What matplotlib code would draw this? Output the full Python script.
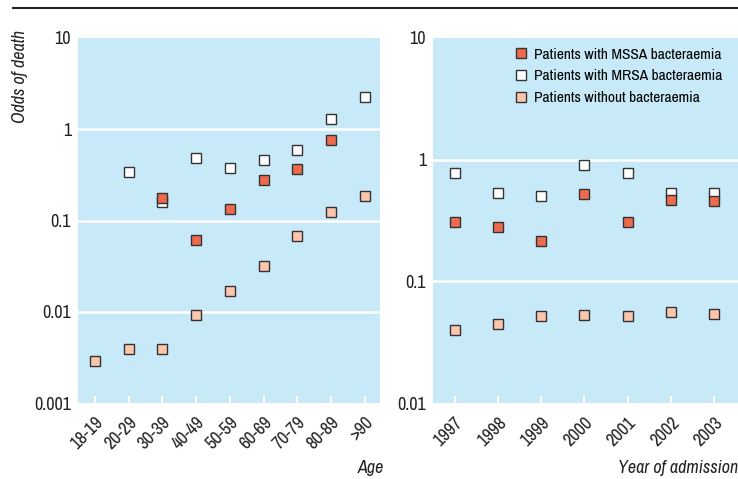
import matplotlib
matplotlib.use("Agg")
import matplotlib.pyplot as plt
import numpy as np

plt.rcParams['font.family'] = ['Archivo Narrow', 'Liberation Sans', 'DejaVu Sans']

# left panel: odds of death by age group
age_groups = ["18-19", "20-29", "30-39", "40-49", "50-59", "60-69", "70-79", "80-89", ">90"]
age_mssa = [np.nan, np.nan, 0.178, 0.061, 0.134, 0.275, 0.37, 0.76, np.nan]
age_mrsa = [np.nan, 0.34, 0.16, 0.49, 0.376, 0.456, 0.587, 1.29, 2.27]
age_none = [0.0029, 0.0039, 0.0039, 0.0092, 0.0169, 0.032, 0.067, 0.124, 0.187]

# right panel: odds of death by year of admission
years = ["1997", "1998", "1999", "2000", "2001", "2002", "2003"]
year_mssa = [0.31, 0.279, 0.213, 0.525, 0.31, 0.47, 0.457]
year_mrsa = [0.77, 0.53, 0.505, 0.90, 0.77, 0.53, 0.53]
year_none = [0.0398, 0.0446, 0.0515, 0.053, 0.052, 0.056, 0.054]

labels = ["Patients with MSSA bacteraemia", "Patients with MRSA bacteraemia",
          "Patients without bacteraemia"]
colors = ["#ee6a4c", "#ffffff", "#fcc5ad"]
bg = "#c7e9f8"


def draw_panel(ax, cats, series, ylim, ticks, ticklabels):
    x = np.arange(len(cats))
    ax.set_facecolor(bg)
    ax.set_yscale("log")
    ax.set_ylim(*ylim)
    order = [2, 1, 0]  # draw MSSA on top
    for i in order:
        ax.plot(x, series[i], linestyle="none", marker="s", markersize=7.5,
                markerfacecolor=colors[i], markeredgecolor="#333333",
                markeredgewidth=1.0, zorder=3 + (2 - i), label=labels[i])
    for t in ticks[1:-1]:
        ax.axhline(t, color="white", lw=1.8, zorder=1)
    ax.set_yticks(ticks)
    ax.set_yticklabels(ticklabels)
    ax.minorticks_off()
    ax.set_xticks(x)
    ax.set_xticklabels(cats, rotation=45, ha="right", rotation_mode="anchor")
    ax.tick_params(axis="x", direction="in", colors="white", length=5, width=1.5,
                   labelcolor="#222222", labelsize=13, pad=8)
    ax.tick_params(axis="y", length=0, labelsize=13, labelcolor="#222222", pad=5)
    for s in ax.spines.values():
        s.set_visible(False)


fig = plt.figure(figsize=(7.38, 4.79), dpi=100)

ax1 = fig.add_axes([78 / 738, 76 / 479, 302 / 738, 365 / 479])
draw_panel(ax1, age_groups, [age_mssa, age_mrsa, age_none], (0.001, 10),
           [0.001, 0.01, 0.1, 1, 10], ["0.001", "0.01", "0.1", "1", "10"])
ax1.set_xlim(-0.5, 8.45)

ax2 = fig.add_axes([433 / 738, 76 / 479, 305 / 738, 365 / 479])
draw_panel(ax2, years, [year_mssa, year_mrsa, year_none], (0.01, 10),
           [0.01, 0.1, 1, 10], ["0.01", "0.1", "1", "10"])
ax2.set_xlim(-0.5, 6.55)

handles, labs = ax2.get_legend_handles_labels()
idx = [labs.index(l) for l in labels]
ax2.legend([handles[i] for i in idx], labels, loc="upper left",
           bbox_to_anchor=(0.218, 1.012), frameon=False, fontsize=11.2,
           handletextpad=0.3, labelspacing=0.5, handlelength=1.0,
           borderaxespad=0.5)

fig.text(20 / 738, 1 - 30 / 479, "Odds of death", rotation=90, style="italic",
         fontsize=13, ha="center", va="top", color="#222222")
fig.text(384 / 738, 1 - 468 / 479, "Age", style="italic", fontsize=13,
         ha="right", va="center", color="#222222")
fig.text(738 / 738, 1 - 468 / 479, "Year of admission", style="italic",
         fontsize=13, ha="right", va="center", color="#222222")

fig.add_artist(plt.Line2D([13 / 738, 1.0], [1 - 8 / 479, 1 - 8 / 479],
                          color="#222222", lw=1.5))

fig.savefig("out.png", dpi=100)
